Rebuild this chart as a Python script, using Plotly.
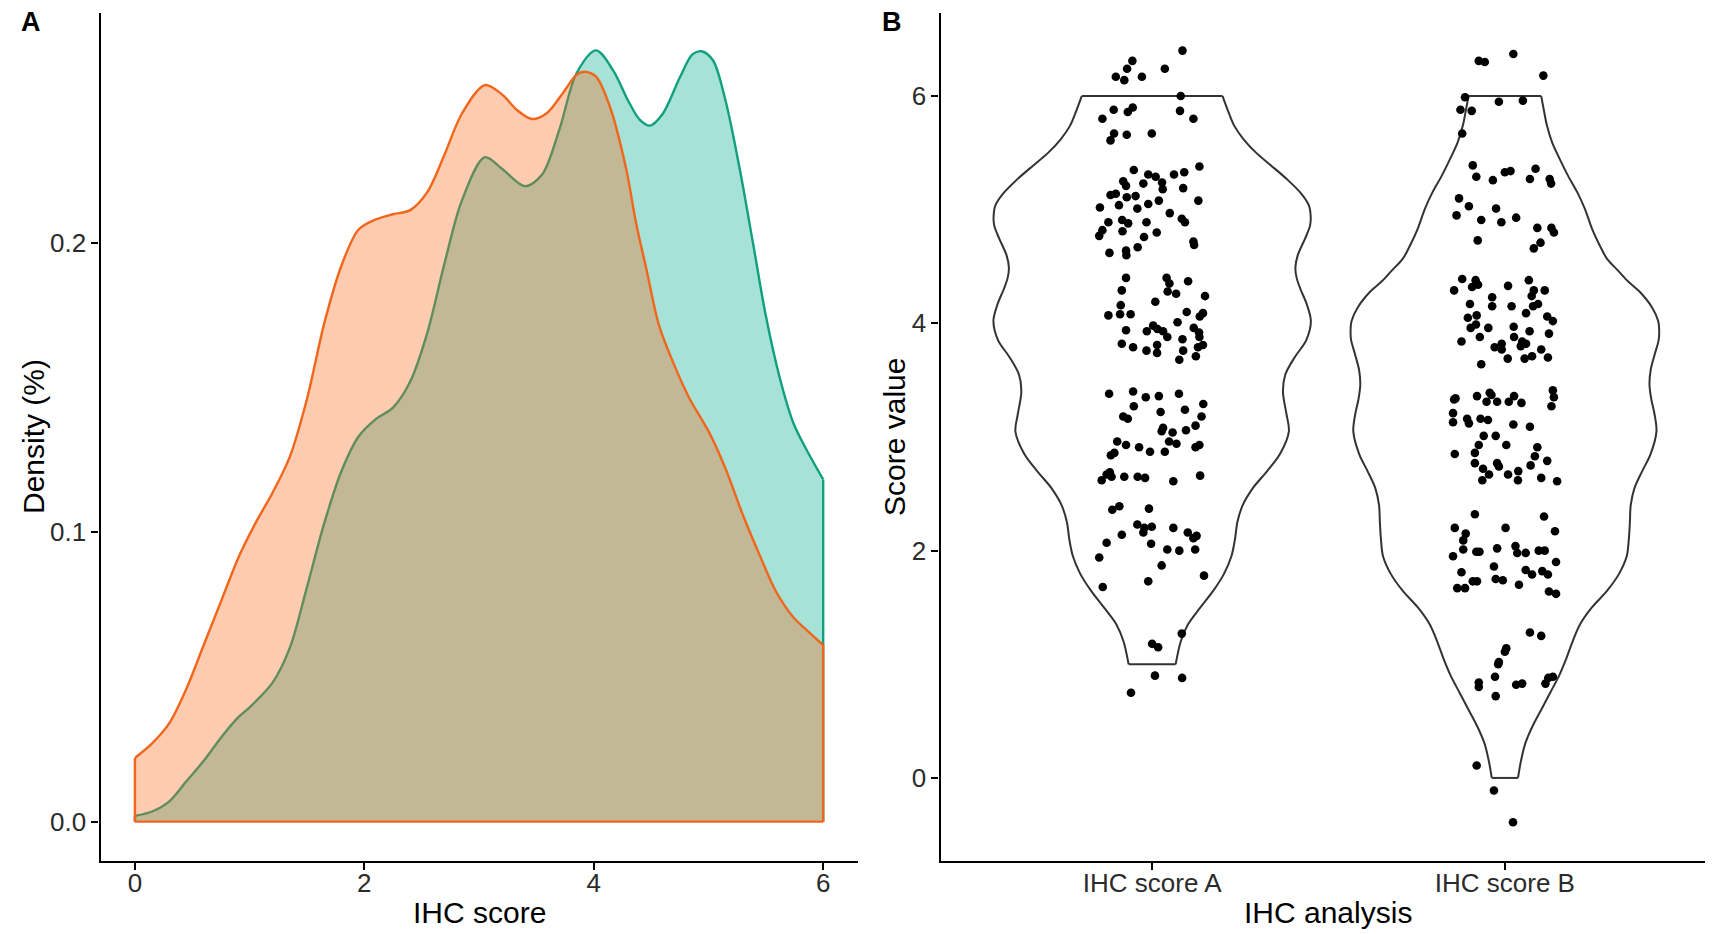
import plotly.graph_objects as go

# ---------------- data ----------------
categories = ["IHC score A", "IHC score B"]

# Panel A: kernel density of the IHC score
dens_x_a = [0, 0.15, 0.3, 0.45, 0.6, 0.75, 0.9, 1.0, 1.2, 1.35, 1.5, 1.65, 1.8, 1.95,
            2.1, 2.25, 2.4, 2.55, 2.7, 2.85, 3.05, 3.2, 3.4, 3.55, 3.7, 3.85, 4.02,
            4.17, 4.3, 4.4, 4.49, 4.6, 4.75, 4.86, 4.94, 5.04, 5.15, 5.27, 5.39, 5.5,
            5.62, 5.74, 5.85, 6.0]
dens_a = [0.002, 0.0035, 0.007, 0.014, 0.021, 0.029, 0.036, 0.0395, 0.048, 0.060, 0.081,
          0.103, 0.121, 0.133, 0.139, 0.143, 0.152, 0.169, 0.193, 0.2145, 0.2295, 0.2255,
          0.2195, 0.2235, 0.239, 0.2585, 0.2664, 0.2594, 0.249, 0.2425, 0.2404, 0.2444,
          0.257, 0.265, 0.2661, 0.2629, 0.2488, 0.2259, 0.1994, 0.1747, 0.1535, 0.1377,
          0.1288, 0.1182]

dens_x_b = [0, 0.15, 0.3, 0.45, 0.6, 0.75, 0.9, 1.05, 1.2, 1.35, 1.5, 1.65, 1.8, 1.95,
            2.1, 2.25, 2.4, 2.55, 2.7, 2.85, 3.05, 3.2, 3.33, 3.46, 3.59, 3.73, 3.85,
            3.92, 4.02, 4.14, 4.28, 4.37, 4.46, 4.57, 4.69, 4.83, 5.01, 5.15, 5.3, 5.45,
            5.59, 5.74, 5.88, 6.0]
dens_b = [0.022, 0.027, 0.034, 0.046, 0.061, 0.076, 0.091, 0.103, 0.1136, 0.126, 0.146,
          0.172, 0.192, 0.2045, 0.208, 0.2098, 0.2112, 0.2175, 0.2305, 0.2445, 0.2544,
          0.2512, 0.2458, 0.2427, 0.2447, 0.2516, 0.258, 0.259, 0.2573, 0.247, 0.2259,
          0.2065, 0.1906, 0.1712, 0.1588, 0.1465, 0.1341, 0.1218, 0.1059, 0.0917, 0.0794,
          0.0706, 0.0653, 0.061]

# observed score range of each group (violins are trimmed to it)
score_range_a = [1, 6]
score_range_b = [0, 6]

# Panel B: jittered points (horizontal jitter in category units, jittered score)
a_jitter = [0.086, -0.056, -0.071, -0.103, -0.079, -0.029, 0.036, 0.081, -0.109, -0.055,
            -0.069, 0.079, -0.141, 0.117, -0.108, -0.118, -0.072, -0.001,
            -0.052, -0.011, 0.010, 0.062, 0.091, 0.134, -0.082, -0.074, -0.025, 0.028,
            0.030, 0.088, -0.118, -0.103, -0.072, -0.047, -0.094, -0.042, -0.011, 0.019,
            0.131, -0.148, 0.050, 0.084, 0.093, -0.124, -0.085, -0.068, -0.016, -0.084,
            -0.141, -0.150, -0.023, 0.013, 0.117, 0.119, -0.121, -0.074, -0.073, -0.041,
            -0.074, 0.041, 0.049, 0.102, -0.086, 0.044, 0.068, 0.150, 0.009, -0.089,
            -0.124, -0.091, -0.061, 0.098, 0.144, 0.135, 0.072, -0.074, -0.015, 0.003,
            0.015, 0.031, 0.043, 0.118, 0.133, 0.134, 0.086, -0.086, -0.054, -0.016,
            0.014, 0.014, 0.088, 0.130, 0.144, 0.077, 0.124,
            -0.122, -0.054, -0.018, 0.019, 0.076, 0.145, -0.052, 0.093, 0.024, -0.082,
            -0.069, 0.140, 0.123, 0.096, 0.031, 0.027, 0.058, -0.099, -0.074, -0.037,
            0.048, 0.069, 0.134, 0.123, -0.006, 0.036, -0.107, -0.117, -0.120, -0.129,
            -0.143, -0.115, -0.079, -0.041, -0.020, 0.060, 0.136,
            -0.113, -0.093, -0.009, -0.042, -0.022, -0.001, -0.025, 0.060, 0.101, 0.117,
            0.126, -0.086, -0.129, -0.003, 0.043, 0.077, 0.122, -0.150, 0.027, 0.147,
            -0.011, -0.140,
            0.084, 0.000, 0.017, 0.008, 0.085, -0.060]
a_score = [6.40, 6.31, 6.24, 6.17, 6.14, 6.17, 6.24, 6.00, 5.88, 5.90,
           5.86, 5.87, 5.80, 5.80, 5.67, 5.61, 5.66, 5.67,
           5.35, 5.31, 5.29, 5.31, 5.33, 5.38, 5.25, 5.21, 5.23, 5.24,
           5.18, 5.19, 5.13, 5.14, 5.11, 5.12, 5.04, 5.01, 5.05, 5.08,
           5.08, 5.02, 4.97, 4.92, 4.89, 4.89, 4.91, 4.88, 4.89, 4.81,
           4.82, 4.77, 4.76, 4.80, 4.72, 4.69, 4.62, 4.64, 4.60, 4.67,
           4.40, 4.40, 4.35, 4.37, 4.29, 4.28, 4.26, 4.24, 4.19, 4.16,
           4.07, 4.08, 4.08, 4.10, 4.09, 4.06, 4.01, 3.94, 3.93, 3.98,
           3.95, 3.93, 3.88, 3.96, 3.92, 3.88, 3.86, 3.82, 3.79, 3.76,
           3.81, 3.74, 3.76, 3.79, 3.81, 3.68, 3.71,
           3.38, 3.40, 3.35, 3.36, 3.38, 3.29, 3.27, 3.24, 3.22, 3.18,
           3.16, 3.18, 3.10, 3.06, 3.08, 3.05, 3.04, 2.96, 2.93, 2.91,
           2.96, 2.94, 2.93, 2.91, 2.87, 2.87, 2.86, 2.84, 2.69, 2.67,
           2.62, 2.65, 2.65, 2.65, 2.64, 2.61, 2.66,
           2.36, 2.39, 2.37, 2.23, 2.20, 2.21, 2.16, 2.20, 2.16, 2.11,
           2.13, 2.14, 2.07, 2.06, 2.01, 2.00, 2.01, 1.94, 1.87, 1.78,
           1.73, 1.68,
           1.27, 1.18, 1.15, 0.90, 0.88, 0.75]

b_jitter = [0.024, -0.074, -0.057, 0.109, -0.113, -0.017, 0.051, -0.126, -0.094, -0.121,
            -0.091, -0.081, -0.034, 0.000, 0.016, 0.087, 0.071, 0.127, 0.131, -0.130,
            -0.102, -0.137, -0.025, -0.067, -0.010, 0.032, 0.092, 0.132, 0.139, -0.077,
            0.101, 0.082,
            -0.121, -0.083, -0.076, -0.093, -0.144, 0.009, 0.068, 0.082, 0.076, 0.113,
            -0.036, -0.099, -0.036, 0.019, 0.080, 0.094, -0.105, -0.080, 0.060, 0.120,
            0.136, -0.097, -0.082, -0.047, 0.025, 0.070, 0.125, -0.123, -0.071, 0.026,
            0.049, 0.060, 0.045, -0.029, -0.009, -0.009, 0.103, 0.008, 0.056, 0.077,
            0.122, -0.067,
            -0.144, -0.140, -0.079, -0.043, -0.038, -0.052, -0.022, 0.011, 0.026, 0.047,
            0.136, 0.139, 0.132, -0.147, -0.147, -0.107, -0.102, -0.069, -0.048, 0.024,
            0.071, -0.060, -0.026, 0.004, 0.092, -0.142, -0.085, -0.074, 0.085, 0.120,
            -0.085, -0.062, -0.022, -0.017, 0.073, -0.045, -0.064, 0.009, 0.038, 0.037,
            0.103, 0.148,
            -0.085, 0.111, -0.142, 0.002, 0.142, -0.111, -0.118, -0.118, -0.147, -0.081,
            -0.072, -0.022, 0.030, 0.035, 0.059, 0.096, 0.113, 0.145, -0.123, -0.031,
            0.059, 0.077, 0.106, 0.122, -0.091, -0.079, -0.135, -0.113, -0.026, -0.006,
            0.040, 0.125, 0.145,
            0.071, 0.103, 0.004, 0.000, -0.017, -0.019, -0.028, -0.074, -0.074, 0.032,
            0.049, 0.115, 0.123, 0.136, -0.026,
            -0.080, -0.031, 0.023]
b_score = [6.37, 6.31, 6.30, 6.18, 5.99, 5.95, 5.96, 5.88, 5.87, 5.67,
           5.39, 5.29, 5.26, 5.33, 5.34, 5.36, 5.27, 5.27, 5.23, 5.10,
           5.03, 4.95, 5.01, 4.91, 4.89, 4.93, 4.84, 4.84, 4.80, 4.73,
           4.71, 4.66,
           4.39, 4.38, 4.34, 4.32, 4.29, 4.33, 4.38, 4.29, 4.24, 4.29,
           4.23, 4.17, 4.15, 4.15, 4.15, 4.17, 4.05, 4.07, 4.09, 4.06,
           4.02, 3.96, 3.99, 3.96, 3.97, 3.93, 3.91, 3.84, 3.88, 3.88,
           3.84, 3.82, 3.80, 3.79, 3.82, 3.77, 3.77, 3.69, 3.69, 3.71,
           3.70, 3.64,
           3.33, 3.34, 3.36, 3.39, 3.37, 3.31, 3.31, 3.31, 3.36, 3.30,
           3.41, 3.35, 3.27, 3.21, 3.13, 3.16, 3.12, 3.16, 3.15, 3.11,
           3.09, 3.01, 3.01, 2.93, 2.91, 2.85, 2.86, 2.93, 2.83, 2.79,
           2.77, 2.72, 2.77, 2.74, 2.75, 2.67, 2.62, 2.67, 2.70, 2.62,
           2.64, 2.61,
           2.32, 2.30, 2.20, 2.20, 2.17, 2.15, 2.09, 2.01, 1.95, 1.99,
           1.99, 2.02, 2.04, 1.98, 1.98, 2.00, 2.00, 1.90, 1.81, 1.86,
           1.83, 1.79, 1.82, 1.79, 1.73, 1.73, 1.67, 1.67, 1.75, 1.74,
           1.70, 1.64, 1.62,
           1.28, 1.25, 1.14, 1.11, 1.02, 1.00, 0.89, 0.84, 0.80, 0.82,
           0.83, 0.83, 0.88, 0.89, 0.72,
           0.11, -0.11, -0.39]

x_ticks_a = [0, 2, 4, 6]
y_ticks_a = [0.0, 0.1, 0.2]
y_ticks_b = [0, 2, 4, 6]

# ---------------- styles ----------------
GREEN_LINE = "#11A07E"
GREEN_FILL = "rgba(0,172,142,0.35)"
ORANGE_LINE = "#F2661B"
ORANGE_FILL = "rgba(246,106,28,0.35)"
VIOLIN_LINE = "#333333"
FONT = "Liberation Sans, Arial, Helvetica, sans-serif"

# page body has an 8px default margin: figure is sized/positioned to compensate
OFF = 8
PAGE_W, PAGE_H = 1713, 934
W, H = PAGE_W - OFF, PAGE_H - OFF


def px(x):   # page x pixel -> paper fraction
    return (x - OFF) / W


def py(y):   # page y pixel (from top) -> paper fraction
    return (H - (y - OFF)) / H


fig = go.Figure()


def add_density(xs, ds, line_color, fill_color, baseline=False):
    fig.add_trace(go.Scatter(
        x=xs, y=ds, mode="lines", fill="tozeroy", fillcolor=fill_color,
        line=dict(color=line_color, width=2.4, shape="spline", smoothing=0.9),
        xaxis="x", yaxis="y", hoverinfo="skip", showlegend=False))
    ex = [xs[0], xs[0], None, xs[-1], xs[-1]]
    ey = [ds[0], 0, None, 0, ds[-1]]
    if baseline:
        ex += [None, xs[0], xs[-1]]
        ey += [None, 0, 0]
    fig.add_trace(go.Scatter(
        x=ex, y=ey, mode="lines", line=dict(color=line_color, width=2.4),
        xaxis="x", yaxis="y", hoverinfo="skip", showlegend=False))


add_density(dens_x_a, dens_a, GREEN_LINE, GREEN_FILL)
add_density(dens_x_b, dens_b, ORANGE_LINE, ORANGE_FILL, baseline=True)

# ---------------- violins (same density, area scaled, width 0.9) ----------------
dmax = max(max(dens_a), max(dens_b))


def add_violin(pos, xs, ds, rng):
    ys = [v for v in xs if rng[0] <= v <= rng[1]]
    hw = [0.45 * d / dmax for v, d in zip(xs, ds) if rng[0] <= v <= rng[1]]
    sx = [pos + h for h in hw] + [None] + [pos - h for h in hw]
    sy = ys + [None] + ys
    fig.add_trace(go.Scatter(
        x=sx, y=sy, mode="lines",
        line=dict(color=VIOLIN_LINE, width=2.0, shape="spline", smoothing=0.9),
        xaxis="x2", yaxis="y2", hoverinfo="skip", showlegend=False))
    cx = [pos - hw[0], pos + hw[0], None, pos - hw[-1], pos + hw[-1]]
    cy = [ys[0], ys[0], None, ys[-1], ys[-1]]
    fig.add_trace(go.Scatter(
        x=cx, y=cy, mode="lines", line=dict(color=VIOLIN_LINE, width=2.0),
        xaxis="x2", yaxis="y2", hoverinfo="skip", showlegend=False))


add_violin(1, dens_x_a, dens_a, score_range_a)
add_violin(2, dens_x_b, dens_b, score_range_b)

for pos, jit, sc in [(1, a_jitter, a_score), (2, b_jitter, b_score)]:
    fig.add_trace(go.Scatter(
        x=[pos + j for j in jit], y=sc, mode="markers",
        marker=dict(color="black", size=8.6, line=dict(width=0)),
        xaxis="x2", yaxis="y2", hoverinfo="skip", showlegend=False))

# ---------------- layout ----------------
ydom = [py(861), py(13)]
axis_common = dict(showline=True, linecolor="black", linewidth=2.2, ticks="outside",
                   ticklen=7, tickwidth=2.2, tickcolor="black", showgrid=False,
                   zeroline=False, tickfont=dict(family=FONT, size=26, color="#2b2b2b"),
                   fixedrange=True)

fig.update_layout(
    width=W, height=H, margin=dict(l=0, r=0, t=0, b=0),
    paper_bgcolor="white", plot_bgcolor="white", showlegend=False,
    font=dict(family=FONT, color="black"),
    xaxis=dict(domain=[px(100.5), px(857.6)], range=[-0.3, 6.3], tickvals=x_ticks_a,
               anchor="y", ticklabelstandoff=-9, **axis_common),
    yaxis=dict(domain=ydom, range=[-0.0136, 0.2793], tickvals=y_ticks_a,
               tickformat=".1f", anchor="x", ticklabelstandoff=0, **axis_common),
    xaxis2=dict(domain=[px(940.5), 1.0], range=[0.4, 2.59], tickvals=[1, 2],
                ticktext=categories, anchor="y2", ticklabelstandoff=-9, **axis_common),
    yaxis2=dict(domain=ydom, range=[-0.731, 6.731], tickvals=y_ticks_b,
                anchor="x2", ticklabelstandoff=0, **axis_common),
)

title_font = dict(family=FONT, size=30, color="black")
ann = [
    dict(text="<b>A</b>", x=px(31), y=py(22), font=dict(family=FONT, size=27, color="black")),
    dict(text="<b>B</b>", x=px(892), y=py(22), font=dict(family=FONT, size=27, color="black")),
    dict(text="IHC score", x=px(479), y=py(912), font=title_font),
    dict(text="IHC analysis", x=px(1328), y=py(912), font=title_font),
    dict(text="Density (%)", x=px(33), y=py(437), font=title_font, textangle=-90),
    dict(text="Score value", x=px(894), y=py(437), font=title_font, textangle=-90),
]
for a in ann:
    fig.add_annotation(xref="paper", yref="paper", showarrow=False,
                       xanchor="center", yanchor="middle", **a)

fig.write_html("out.html")
